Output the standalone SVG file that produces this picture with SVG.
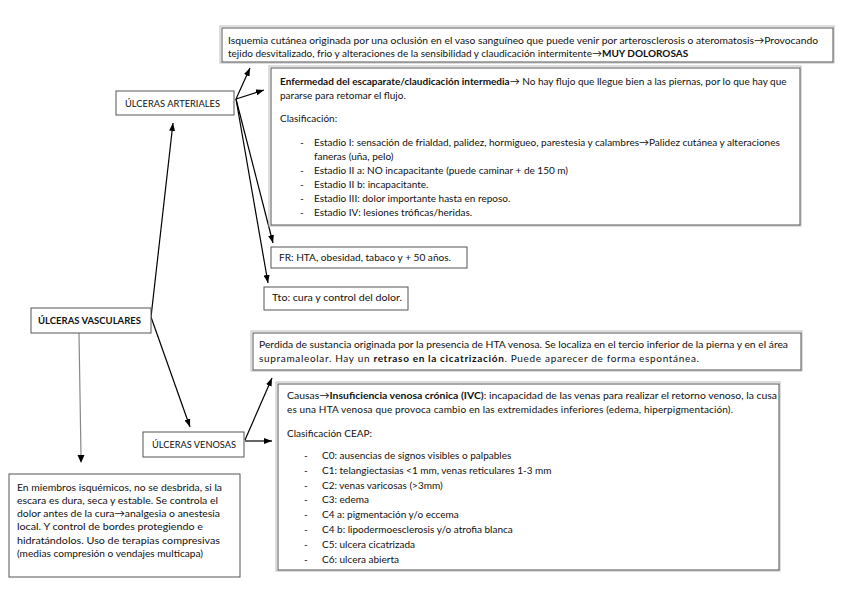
<svg xmlns="http://www.w3.org/2000/svg" width="848" height="599" viewBox="0 0 848 599">
<defs>
<marker id="ah" markerWidth="8" markerHeight="6" refX="8" refY="3" orient="auto" markerUnits="userSpaceOnUse">
<path d="M0,0 L8,3 L0,6 z" fill="#000"/>
</marker>
<style>
text{font-family:Lato,"Open Sans","Liberation Sans",sans-serif;font-size:10px;fill:#111}
.b{font-weight:bold}
.box{fill:#fff;stroke:#555;stroke-width:1}
.sh{fill:none;stroke:#bbb;stroke-width:1}
.con{stroke:#000;stroke-width:1.2;fill:none;marker-end:url(#ah)}
.gray{stroke:#888;stroke-width:1.2;fill:none}
</style>
</defs>
<rect width="848" height="599" fill="#fff"/>
<g id="connectors">
<line class="con" x1="151" y1="317" x2="173" y2="123"/>
<line class="con" x1="151" y1="317" x2="190" y2="427"/>
<line class="gray" x1="79" y1="333" x2="81" y2="456"/>
<path d="M77.5,455 L84.5,455 L81,463 z" fill="#000"/>
<line class="con" x1="236" y1="99" x2="250" y2="68"/>
<line class="con" x1="236" y1="99" x2="264" y2="90"/>
<line class="con" x1="236" y1="99" x2="273" y2="243"/>
<line class="con" x1="236" y1="99" x2="268" y2="283"/>
<line class="con" x1="245" y1="440" x2="272" y2="378"/>
<line class="con" x1="245" y1="441" x2="272" y2="441"/>
</g>
<g id="n-vasculares">
<rect class="box" x="31" y="308" width="120" height="25"/>
<text class="b" x="38" y="324" textLength="103" lengthAdjust="spacingAndGlyphs">ÚLCERAS VASCULARES</text>
</g>
<g id="n-arteriales">
<rect class="box" x="116" y="91" width="118" height="24"/>
<text x="125" y="107" textLength="95" lengthAdjust="spacingAndGlyphs">ÚLCERAS ARTERIALES</text>
</g>
<g id="n-venosas">
<rect class="box" x="143" y="432" width="101" height="25"/>
<text x="152" y="448" textLength="84" lengthAdjust="spacingAndGlyphs">ÚLCERAS VENOSAS</text>
</g>
<g id="n-isquemia">
<rect class="sh" x="220" y="26" width="614" height="37"/>
<rect class="box" x="222" y="28" width="611" height="34"/>
<text x="228" y="43.5" textLength="590" lengthAdjust="spacingAndGlyphs">Isquemia cutánea originada por una oclusión en el vaso sanguíneo que puede venir por arterosclerosis o ateromatosis→Provocando</text>
<text x="228" y="56.5">tejido desvitalizado, frio y alteraciones de la sensibilidad y claudicación intermitente→<tspan class="b">MUY DOLOROSAS</tspan></text>
</g>
<g id="n-enfermedad">
<rect class="sh" x="269" y="66" width="532" height="160"/>
<rect class="box" x="271" y="68" width="529" height="157"/>
<text x="280" y="85"><tspan class="b">Enfermedad del escaparate/claudicación intermedia</tspan>→ No hay flujo que llegue bien a las piernas, por lo que hay que</text>
<text x="280" y="99">pararse para retomar el flujo.</text>
<text x="280" y="122">Clasificación:</text>
<text x="300" y="145.5">-</text><text x="314" y="145.5">Estadio I: sensación de frialdad, palidez, hormigueo, parestesia y calambres→Palidez cutánea y alteraciones</text>
<text x="314" y="159.5">faneras (uña, pelo)</text>
<text x="300" y="173.5">-</text><text x="314" y="173.5">Estadio II a: NO incapacitante (puede caminar + de 150 m)</text>
<text x="300" y="187.5">-</text><text x="314" y="187.5">Estadio II b: incapacitante.</text>
<text x="300" y="201.5">-</text><text x="314" y="201.5">Estadio III: dolor importante hasta en reposo.</text>
<text x="300" y="215.5">-</text><text x="314" y="215.5">Estadio IV: lesiones tróficas/heridas.</text>
</g>
<g id="n-fr">
<rect class="box" x="271" y="247" width="196" height="21"/>
<text x="279" y="261" textLength="172" lengthAdjust="spacingAndGlyphs">FR: HTA, obesidad, tabaco y + 50 años.</text>
</g>
<g id="n-tto">
<rect class="box" x="264" y="287" width="144" height="23"/>
<text x="272" y="301" textLength="130" lengthAdjust="spacingAndGlyphs">Tto: cura y control del dolor.</text>
</g>
<g id="n-perdida">
<rect class="sh" x="251" y="331" width="551" height="40"/>
<rect class="box" x="253" y="333" width="548" height="37"/>
<text x="259" y="348" textLength="529" lengthAdjust="spacingAndGlyphs">Perdida de sustancia originada por la presencia de HTA venosa. Se localiza en el tercio inferior de la pierna y en el área</text>
<text x="259" y="361.5" textLength="440" lengthAdjust="spacing">supramaleolar. Hay un <tspan class="b">retraso en la cicatrización</tspan>. Puede aparecer de forma espontánea.</text>
</g>
<g id="n-causas">
<rect class="sh" x="276" y="382" width="504" height="189"/>
<rect class="box" x="278" y="384" width="501" height="186"/>
<text x="287" y="398.5" textLength="490" lengthAdjust="spacingAndGlyphs">Causas→<tspan class="b">Insuficiencia venosa crónica (IVC)</tspan>: incapacidad de las venas para realizar el retorno venoso, la cusa</text>
<text x="287" y="413" textLength="446" lengthAdjust="spacing">es una HTA venosa que provoca cambio en las extremidades inferiores (edema, hiperpigmentación).</text>
<text x="287" y="436.5">Clasificación CEAP:</text>
<text x="304" y="459">-</text><text x="322" y="459">C0: ausencias de signos visibles o palpables</text>
<text x="304" y="473.8">-</text><text x="322" y="473.8">C1: telangiectasias &lt;1 mm, venas reticulares 1-3 mm</text>
<text x="304" y="488.6">-</text><text x="322" y="488.6">C2: venas varicosas (&gt;3mm)</text>
<text x="304" y="503.4">-</text><text x="322" y="503.4">C3: edema</text>
<text x="304" y="518.2">-</text><text x="322" y="518.2">C4 a: pigmentación y/o eccema</text>
<text x="304" y="533">-</text><text x="322" y="533">C4 b: lipodermoesclerosis y/o atrofia blanca</text>
<text x="304" y="547.8">-</text><text x="322" y="547.8">C5: ulcera cicatrizada</text>
<text x="304" y="562.6">-</text><text x="322" y="562.6">C6: ulcera abierta</text>
</g>
<g id="n-curas">
<rect class="box" x="9" y="474" width="231" height="103"/>
<text x="17" y="490.5" textLength="205" lengthAdjust="spacingAndGlyphs">En miembros isquémicos, no se desbrida, si la</text>
<text x="17" y="503.8" textLength="201" lengthAdjust="spacingAndGlyphs">escara es dura, seca y estable. Se controla el</text>
<text x="17" y="517.1" textLength="203" lengthAdjust="spacingAndGlyphs">dolor antes de la cura→analgesia o anestesia</text>
<text x="17" y="530.4" textLength="186" lengthAdjust="spacingAndGlyphs">local. Y control de bordes protegiendo e</text>
<text x="17" y="543.7" textLength="203" lengthAdjust="spacingAndGlyphs">hidratándolos. Uso de terapias compresivas</text>
<text x="17" y="557" textLength="186" lengthAdjust="spacingAndGlyphs">(medias compresión o vendajes multicapa)</text>
</g>
</svg>
